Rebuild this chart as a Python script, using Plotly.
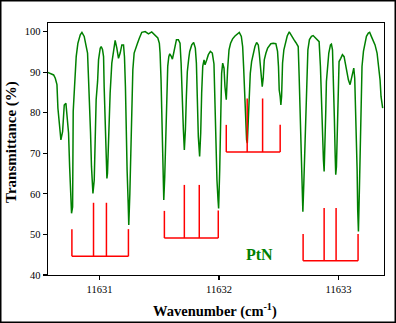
import plotly.graph_objects as go

# ---- spectrum (wavenumber in cm-1, transmittance in %) ----
wavenumber = [
    11630.560, 11630.616, 11630.630, 11630.644, 11630.652, 11630.663, 11630.677, 11630.691,
    11630.705, 11630.719, 11630.727, 11630.741, 11630.750, 11630.761, 11630.766, 11630.775,
    11630.780, 11630.791, 11630.805, 11630.819, 11630.839, 11630.853, 11630.872, 11630.886,
    11630.900, 11630.908, 11630.917, 11630.925, 11630.933, 11630.945, 11630.956, 11630.964,
    11630.972, 11630.984, 11630.992, 11631.006, 11631.014, 11631.025, 11631.034, 11631.039,
    11631.048, 11631.056, 11631.062, 11631.067, 11631.075, 11631.089, 11631.103, 11631.117,
    11631.131, 11631.145, 11631.159, 11631.173, 11631.187, 11631.201, 11631.209, 11631.217,
    11631.223, 11631.231, 11631.240, 11631.245, 11631.254, 11631.262, 11631.270, 11631.279,
    11631.290, 11631.304, 11631.318, 11631.334, 11631.354, 11631.382, 11631.410, 11631.437,
    11631.465, 11631.488, 11631.501, 11631.507, 11631.515, 11631.521, 11631.527, 11631.532,
    11631.538, 11631.546, 11631.554, 11631.563, 11631.571, 11631.580, 11631.588, 11631.602,
    11631.610, 11631.621, 11631.632, 11631.644, 11631.660, 11631.674, 11631.683, 11631.691,
    11631.702, 11631.710, 11631.719, 11631.727, 11631.735, 11631.747, 11631.755, 11631.772,
    11631.788, 11631.802, 11631.811, 11631.819, 11631.827, 11631.838, 11631.847, 11631.855,
    11631.864, 11631.875, 11631.883, 11631.897, 11631.911, 11631.928, 11631.944, 11631.958,
    11631.967, 11631.975, 11631.983, 11631.992, 11631.997, 11632.006, 11632.014, 11632.022,
    11632.031, 11632.042, 11632.050, 11632.061, 11632.072, 11632.084, 11632.097, 11632.114,
    11632.134, 11632.153, 11632.170, 11632.187, 11632.198, 11632.206, 11632.214, 11632.223,
    11632.231, 11632.237, 11632.245, 11632.253, 11632.262, 11632.273, 11632.287, 11632.301,
    11632.315, 11632.329, 11632.337, 11632.345, 11632.354, 11632.362, 11632.370, 11632.379,
    11632.393, 11632.407, 11632.434, 11632.454, 11632.476, 11632.490, 11632.498, 11632.504,
    11632.512, 11632.518, 11632.524, 11632.532, 11632.543, 11632.557, 11632.571, 11632.588,
    11632.607, 11632.627, 11632.643, 11632.663, 11632.671, 11632.679, 11632.688, 11632.696,
    11632.702, 11632.710, 11632.718, 11632.727, 11632.735, 11632.744, 11632.757, 11632.774,
    11632.788, 11632.808, 11632.824, 11632.838, 11632.849, 11632.858, 11632.866, 11632.874,
    11632.880, 11632.888, 11632.894, 11632.899, 11632.908, 11632.919, 11632.933, 11632.941,
    11632.950, 11632.955, 11632.961, 11632.966, 11632.972, 11632.977, 11632.983, 11632.991,
    11632.997, 11633.005, 11633.019, 11633.033, 11633.047, 11633.058, 11633.069, 11633.083,
    11633.097, 11633.108, 11633.117, 11633.128, 11633.136, 11633.142, 11633.150, 11633.156,
    11633.161, 11633.167, 11633.175, 11633.181, 11633.189, 11633.197, 11633.209, 11633.220,
    11633.234, 11633.250, 11633.261, 11633.275, 11633.289, 11633.306, 11633.323, 11633.337,
    11633.348, 11633.356, 11633.364, 11633.370,
]
transmittance = [
    90.0, 89.3, 88.5, 86.9, 81.1, 76.6, 73.3, 75.3,
    81.9, 82.3, 79.5, 75.0, 66.7, 57.7, 55.2, 56.8,
    80.3, 86.4, 93.8, 97.1, 99.2, 99.8, 98.8, 96.7,
    94.7, 88.5, 82.3, 75.0, 66.7, 60.1, 63.4, 74.1,
    83.2, 87.7, 93.0, 95.9, 96.3, 95.6, 93.8, 86.4,
    75.0, 65.1, 63.8, 65.1, 75.0, 84.8, 92.2, 95.5,
    97.8, 95.9, 93.4, 94.7, 96.7, 96.7, 93.8, 86.4,
    75.0, 65.9, 57.7, 52.3, 60.1, 71.6, 82.3, 90.6,
    94.7, 96.2, 97.1, 98.4, 99.8, 100.0, 99.4, 99.9,
    99.2, 98.4, 97.1, 94.7, 88.1, 78.2, 68.4, 64.2,
    58.5, 64.2, 71.6, 82.3, 91.4, 93.8, 94.5, 93.8,
    93.2, 94.7, 96.7, 98.0, 98.0, 97.1, 92.2, 82.3,
    75.8, 70.8, 75.8, 84.0, 90.1, 93.4, 95.1, 96.7,
    97.3, 95.9, 92.2, 83.2, 74.1, 69.2, 75.0, 84.8,
    91.4, 93.0, 91.8, 93.0, 94.3, 95.1, 94.7, 92.0,
    80.7, 70.0, 63.4, 58.5, 56.4, 65.9, 82.3, 89.7,
    92.2, 91.0, 86.4, 83.2, 90.6, 95.5, 97.1, 98.2,
    98.9, 99.4, 99.8, 98.8, 96.3, 91.4, 84.8, 78.2,
    73.3, 72.5, 78.2, 84.8, 89.7, 92.6, 94.7, 96.3,
    97.3, 96.7, 94.7, 91.4, 88.9, 86.4, 88.5, 93.0,
    94.7, 95.9, 97.0, 97.1, 97.0, 95.1, 91.4, 85.6,
    84.0, 81.9, 84.0, 92.2, 95.5, 97.5, 98.9, 99.9,
    98.8, 98.0, 97.3, 96.3, 88.9, 78.2, 68.4, 62.6,
    55.6, 62.6, 71.6, 81.5, 90.6, 95.5, 98.0, 98.8,
    99.0, 98.4, 97.8, 97.5, 91.4, 81.5, 73.3, 68.4,
    65.5, 71.6, 80.7, 87.7, 91.4, 94.7, 96.7, 96.9,
    95.5, 91.4, 85.6, 78.2, 70.0, 64.7, 66.7, 78.2,
    86.4, 92.6, 93.4, 94.3, 93.8, 91.8, 89.7, 88.1,
    86.9, 88.1, 89.7, 91.0, 88.5, 83.2, 74.1, 65.9,
    56.0, 50.7, 61.0, 71.6, 84.0, 91.4, 95.1, 97.1,
    98.8, 99.6, 99.8, 98.8, 98.0, 96.7, 94.7, 91.4,
    88.1, 84.0, 81.9, 81.1,
]

# ---- stick assignments (four groups) ----
stick_positions = [
    [11630.769, 11630.950, 11631.058, 11631.242],
    [11631.543, 11631.710, 11631.835, 11631.994],
    [11632.061, 11632.236, 11632.365, 11632.512],
    [11632.704, 11632.880, 11632.980, 11633.164],
]
stick_tops = [
    [51.3, 57.8, 57.8, 51.3],
    [55.8, 62.2, 62.2, 55.9],
    [77.0, 83.5, 83.5, 77.0],
    [50.1, 56.5, 56.5, 50.1],
]
stick_bases = [44.6, 49.1, 70.3, 43.5]

x_tick_values = [11631, 11632, 11633]
x_tick_labels = ["11631", "11632", "11633"]
y_tick_values = [40, 50, 60, 70, 80, 90, 100]

label_text = "PtN"
label_pos = (11632.343, 45.1)

GREEN = "#008000"
RED = "#ff0000"
FONT = "Liberation Serif, Times New Roman, serif"

fig = go.Figure()

fig.add_trace(go.Scatter(
    x=wavenumber, y=transmittance, mode="lines",
    line=dict(color=GREEN, width=1.5), hoverinfo="skip", showlegend=False,
))

for pos, tops, base in zip(stick_positions, stick_tops, stick_bases):
    xs, ys = [pos[0], pos[-1], None], [base, base, None]
    for p, t in zip(pos, tops):
        xs += [p, p, None]
        ys += [base, t, None]
    fig.add_trace(go.Scatter(
        x=xs, y=ys, mode="lines", line=dict(color=RED, width=1.5),
        hoverinfo="skip", showlegend=False,
    ))

W, H = 396, 323
ML, MR, MT, MB = 48, 12, 23, 48
PW, PH = W - ML - MR, H - MT - MB


def px(xp):
    return (xp - ML) / PW


def py(yp):
    return (H - MB - yp) / PH


fig.update_layout(
    width=W, height=H,
    margin=dict(l=ML, r=MR, t=MT, b=MB, pad=0),
    paper_bgcolor="white", plot_bgcolor="white",
    font=dict(family=FONT, color="black", size=10.5),
    hovermode=False,
    xaxis=dict(
        range=[11630.569, 11633.381], tickvals=x_tick_values, ticktext=x_tick_labels,
        showgrid=False, zeroline=False, showline=True, linecolor="black", linewidth=1.3,
        mirror=True, ticks="outside", ticklen=4, tickwidth=1.2, tickcolor="black",
        tickfont=dict(family=FONT, size=10.5, color="black"),
    ),
    yaxis=dict(
        range=[40, 102.1], tickvals=y_tick_values,
        showgrid=False, zeroline=False, showline=True, linecolor="black", linewidth=1.3,
        mirror=True, ticks="outside", ticklen=4, tickwidth=1.2, tickcolor="black",
        tickfont=dict(family=FONT, size=10.5, color="black"),
    ),
    annotations=[
        dict(text="<b>Transmittance (%)</b>", xref="paper", yref="paper",
             x=px(11.5), y=py(142.5), textangle=-90, showarrow=False,
             xanchor="center", yanchor="middle",
             font=dict(family=FONT, size=15, color="black")),
        dict(text="<b>Wavenumber (cm<sup>-1</sup>)</b>", xref="paper", yref="paper",
             x=px(214.5), y=py(310), showarrow=False,
             xanchor="center", yanchor="middle",
             font=dict(family=FONT, size=14.5, color="black")),
        dict(text="<b>" + label_text + "</b>", xref="x", yref="y",
             x=label_pos[0], y=label_pos[1], showarrow=False,
             xanchor="center", yanchor="middle",
             font=dict(family=FONT, size=16, color=GREEN)),
    ],
    shapes=[
        dict(type="rect", xref="paper", yref="paper",
             x0=px(0.75), x1=px(395.25), y0=py(322.25), y1=py(0.75),
             line=dict(color="black", width=1.5), fillcolor="rgba(0,0,0,0)", layer="above"),
    ],
)

fig.write_html(
    "out.html",
    config={"displayModeBar": False, "staticPlot": True},
    post_script="document.body.style.margin='0';document.body.style.overflow='hidden';",
)
